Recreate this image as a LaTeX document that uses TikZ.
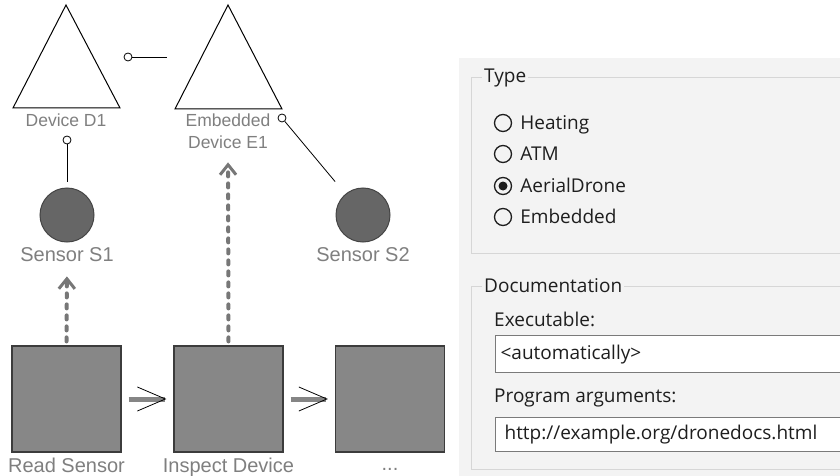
\documentclass[tikz,border=0pt]{standalone}
\usepackage{fontspec}
\setmainfont{Liberation Sans}
\newfontfamily\uifont{Open Sans}
\usepackage{xcolor}
\usetikzlibrary{positioning, arrows.meta}

\definecolor{labelgray}{HTML}{7F7F7F}
\definecolor{boxfill}{HTML}{878787}
\definecolor{boxedge}{HTML}{3C3C3C}
\definecolor{sensorfill}{HTML}{666666}
\definecolor{sensoredge}{HTML}{444444}
\definecolor{dotgray}{HTML}{777777}
\definecolor{flowgray}{HTML}{858585}
\definecolor{panelbg}{HTML}{F3F3F3}
\definecolor{groupline}{HTML}{D6D6D6}
\definecolor{fieldedge}{HTML}{7A7A7A}
\definecolor{uidark}{HTML}{1E1E1E}

\begin{document}
\begin{tikzpicture}[x=1pt, y=-1pt,
    lbl/.style={text=labelgray, font=\fontsize{20}{22}\selectfont, inner sep=0pt, anchor=base},
    devlbl/.style={text=labelgray, font=\fontsize{17.5}{20}\selectfont, inner sep=0pt, anchor=base},
    tri/.style={draw=black, line width=1pt, line join=miter},
    actbox/.style={draw=boxedge, fill=boxfill, line width=1.2pt, minimum width=109pt, minimum height=106pt, inner sep=0pt},
    sensor/.style={circle, draw=sensoredge, fill=sensorfill, line width=1pt, minimum size=54pt, inner sep=0pt},
    port/.style={circle, draw=black, line width=0.8pt, minimum size=8pt, inner sep=0pt},
    portline/.style={draw=black, line width=0.8pt},
    dotflow/.style={draw=dotgray, line width=4pt, line cap=round, dash pattern=on 4pt off 7pt,
        -{Straight Barb[length=10pt, width=16pt, line width=3pt]}},
    flow/.style={draw=flowgray, line width=5pt,
        -{Straight Barb[length=28pt, width=24pt, line width=0.8pt, color=black]}},
    uitext/.style={text=uidark, font=\uifont\fontsize{19}{21}\selectfont, inner sep=0pt},
    grouplbl/.style={uitext, anchor=west, fill=panelbg, inner xsep=2pt, inner ysep=1pt},
    radio/.style={circle, draw=uidark, line width=1.3pt, minimum size=17pt, inner sep=0pt},
    radiolbl/.style={uitext, text height=13pt, text depth=0pt, right=8pt of #1},
    field/.style={uitext, draw=fieldedge, fill=white, line width=1.2pt, anchor=north west,
        text width=350pt, inner xsep=5pt, inner ysep=0pt, align=left}
  ]
  \useasboundingbox (0,0) rectangle (840,476);

  % Geraete
  \draw[tri] (66,5) -- (120,108) -- (13,108) -- cycle;
  \node[devlbl] (d1) at (66,126) {Device D1};
  \draw[tri] (228,5) -- (282,109) -- (175,109) -- cycle;
  \node[devlbl] (e1a) at (228,126) {Embedded};
  \node[devlbl] (e1) at (228,148) {Device E1};

  % Ports
  \node[port] (d1p) at (67,140) {};
  \node[port] (e1p) at (282,118) {};
  \node[port] (fp) at (128,57) {};
  \coordinate (fpend) at (167,57);

  % Sensoren
  \node[sensor] (s1) at (67,215) {};
  \node[lbl] (s1l) at (67,261) {Sensor S1};
  \node[sensor] (s2) at (363,215) {};
  \node[lbl] (s2l) at (363,261) {Sensor S2};

  % Aktionen
  \node[actbox] (rs) at (66.5,399) {};
  \node[lbl] (rsl) at (66.5,472) {Read Sensor};
  \node[actbox] (id) at (228.5,399) {};
  \node[lbl] (idl) at (228.5,472) {Inspect Device};
  \node[actbox] (nx) at (390,399) {};
  \node[lbl] (nxl) at (390,470) {...};

  % Verbindungen
  \draw[portline, shorten <=6pt] (s1) -- (d1p);
  \draw[portline, shorten >=16pt] (e1p) -- (s2);
  \draw[portline] (fp) -- (fpend);
  \draw[dotflow, shorten <=4pt, shorten >=15pt] (rs.north) -- (s1l.south);
  \draw[dotflow, shorten <=4pt, shorten >=14pt] (id.north) -- (e1.south);
  \draw[flow, shorten <=7pt, shorten >=7pt] (rs) -- (id);
  \draw[flow, shorten <=7pt, shorten >=7pt] (id) -- (nx);

  % Eigenschaften
  \fill[panelbg] (459,58) rectangle (840,476);

  % Type
  \draw[groupline, line width=1pt] (471,78) rectangle (850,253);
  \node[grouplbl] (typel) at (482,78) {Type};
  \node[radio] (rh) at (503,123) {};
  \node[radiolbl=rh] (rhl) {Heating};
  \node[radio] (ra) at (503,154) {};
  \node[radiolbl=ra] (ral) {ATM};
  \node[radio] (rd) at (503,186) {};
  \fill[uidark] (rd) circle (4.5pt);
  \node[radiolbl=rd] (rdl) {AerialDrone};
  \node[radio] (re) at (503,217) {};
  \node[radiolbl=re] (rel) {Embedded};

  % Documentation
  \draw[groupline, line width=1pt] (471,286) rectangle (850,469);
  \node[grouplbl] (docl) at (482,286) {Documentation};
  \node[uitext, anchor=base west] (exl) at (494,326) {Executable:};
  \node[field, minimum height=37pt] (exf) at (495,335) {<automatically>};
  \node[uitext, anchor=base west] (pal) at (494,402) {Program arguments:};
  \node[field, minimum height=34pt, inner xsep=9pt] (paf) at (495,417) {http://example.org/dronedocs.html};
\end{tikzpicture}
\end{document}
